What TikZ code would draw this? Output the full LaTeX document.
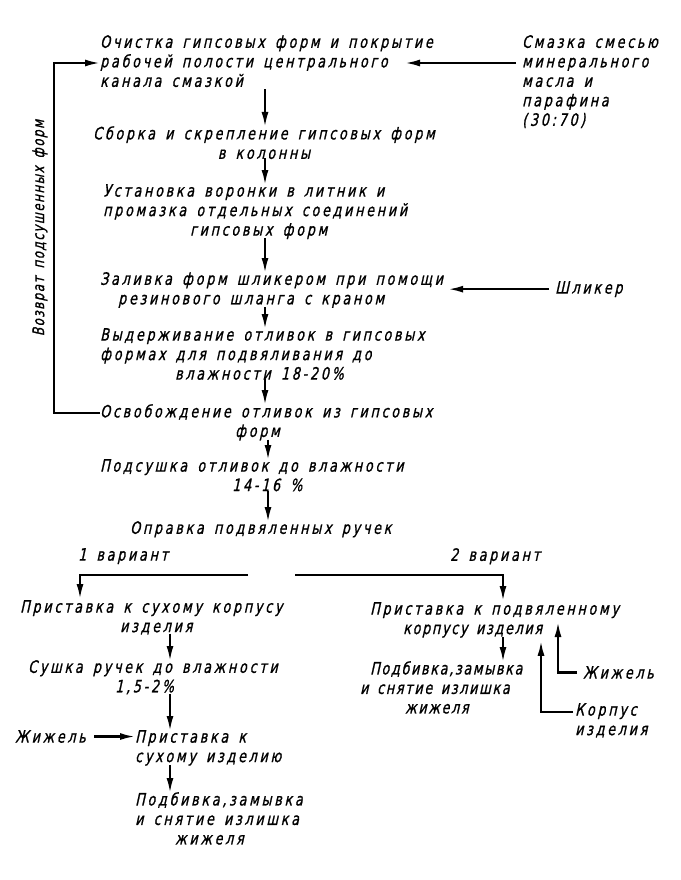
\documentclass[tikz,border=0pt]{standalone}
\usepackage{fontspec}
\setmainfont{DejaVu Sans}[FakeSlant=0.22, FakeStretch=0.75, LetterSpace=16, FakeBold=1, WordSpace=1.5]
\newfontfamily\lblfont{DejaVu Sans}[FakeSlant=0.22, FakeStretch=0.75, LetterSpace=9, FakeBold=1, WordSpace=1.5]
\newfontfamily\tightfont{DejaVu Sans}[FakeSlant=0.22, FakeStretch=0.75, LetterSpace=10, FakeBold=1, WordSpace=1.5]
\usetikzlibrary{arrows.meta}
\begin{document}
\begin{tikzpicture}[x=1pt,y=-1pt,
  txt/.style={inner sep=0pt, align=left, font=\fontsize{17}{19.5}\selectfont, anchor=north west},
  arr/.style={line width=2.2pt, -{Latex[length=15pt,width=7pt]}},
  ln/.style={line width=2.2pt}]
\useasboundingbox[fill=white] (0,0) rectangle (680,880);

% axes
\coordinate (ax) at (265,0);
\coordinate (axb) at (268,0);
\coordinate (axl) at (170,0);
\coordinate (axr) at (503,0);
\coordinate (bl) at (80,0);
\coordinate (lp) at (54,0);
\coordinate (c545) at (541,0);
\coordinate (c565) at (558,0);

% nodes
\node[txt] (n1) at (100,35) {Очистка гипсовых форм и покрытие\\рабочей полости центрального\\канала смазкой};
\node[txt] (sm) at (522,35) {Смазка смесью\\минерального\\масла и\\парафина\\(30:70)};
\node[txt, align=center, anchor=north] (n2) at (264,126) {Сборка и скрепление гипсовых форм\\в колонны};
\node[txt] (n3) at (103,184) {Установка воронки в литник и\\промазка отдельных соединений\\\hspace*{87pt}гипсовых форм};
\node[txt] (n4) at (100,272) {Заливка форм шликером при помощи\\\hspace*{18pt}резинового шланга с краном};
\node[txt] (shl) at (555,281) {Шликер};
\node[txt] (n5) at (100,328) {Выдерживание отливок в гипсовых\\формах для подвяливания до\\\hspace*{75pt}влажности 18-20\%};
\node[txt] (n6) at (100,404) {Освобождение отливок из гипсовых\\\hspace*{135pt}форм};
\node[txt] (n7) at (100,459) {Подсушка отливок до влажности\\\hspace*{132pt}14-16 \%};
\node[txt] (n8) at (130,521) {Оправка подвяленных ручек};
\node[txt] (v1) at (78,548) {1 вариант};
\node[txt] (v2) at (450,548) {2 вариант};
\node[txt] (n9) at (20,600) {Приставка к сухому корпусу\\\hspace*{100pt}изделия};
\node[txt] (n10) at (28,660) {Сушка ручек до влажности\\\hspace*{87pt}1,5-2\%};
\node[txt] (zh1) at (15,730) {Жижель};
\node[txt] (n11) at (135,730) {Приставка к\\сухому изделию};
\node[txt] (n12) at (135,792) {Подбивка,замывка\\и снятие излишка\\\hspace*{40pt}жижеля};
\node[txt] (n13) at (370,602) {Приставка к подвяленному\\\hspace*{33pt}{\tightfont корпусу изделия}};
\node[txt, font=\tightfont\fontsize{17}{19.5}\selectfont] (n14) at (360,661) {\hspace*{10pt}Подбивка,замывка\\и снятие излишка\\\hspace*{45pt}жижеля};
\node[txt] (zh2) at (583,666) {Жижель};
\node[txt] (korp) at (575,703) {Корпус\\изделия};
\node[txt, font=\lblfont\fontsize{16}{19}\selectfont, anchor=center, rotate=90] (vz) at (40,228) {Возврат подсушенных форм};

\coordinate (t1) at (405,63);
\coordinate (b1) at (248,575);
\coordinate (b2) at (295,575);

% connectors
\draw[arr] ([xshift=-6pt,yshift=-28pt]sm.north west) -- (t1);
\draw[arr] ([yshift=-2pt]n1.south -| ax) -- ([yshift=-1pt]n2.north -| ax);
\draw[arr] ([yshift=1pt]n2.south -| ax) -- ([yshift=-1pt]n3.north -| ax);
\draw[arr] ([yshift=1pt]n3.south -| ax) -- ([yshift=-1pt]n4.north -| ax);
\draw[arr] ([xshift=-6pt]shl.west) -- ([xshift=5pt]shl.west -| n4.east);
\draw[arr] ([yshift=1pt]n4.south -| ax) -- ([yshift=-1pt]n5.north -| ax);
\draw[arr] ([yshift=1pt]n5.south -| ax) -- ([yshift=-1pt]n6.north -| ax);
\draw[arr] ([yshift=1pt]n6.south -| axb) -- ([yshift=-1pt]n7.north -| axb);
\draw[arr] ([yshift=1pt]n7.south -| axb) -- ([yshift=-1pt]n8.north -| axb);
\draw[arr] ([yshift=-9pt]n6.north west) -| ([yshift=-28pt]n1.north west -| lp) -- ([yshift=-28pt]n1.north west);
\draw[arr] (b1) -| ([yshift=1pt]n9.north -| bl);
\draw[arr] (b2) -| ([yshift=1pt]n13.north -| axr);
\draw[arr] ([yshift=1pt]n9.south -| axl) -- ([yshift=-1pt]n10.north -| axl);
\draw[arr] ([yshift=1pt]n10.south -| axl) -- ([yshift=-1pt]n11.north -| axl);
\draw[arr] ([yshift=1pt]n11.south -| axl) -- ([yshift=-1pt]n12.north -| axl);
\draw[arr] ([xshift=8pt]zh1.east) -- (n11.west |- zh1.east);
\draw[arr] ([yshift=1pt]n13.south -| axr) -- ([yshift=-1pt]n14.north -| axr);
\draw[arr] ([xshift=-2pt,yshift=-9pt]korp.north west) -| ([yshift=-3pt]n13.south -| c545);
\draw[arr] ([xshift=-6pt]zh2.west) -| ([yshift=-20pt]n13.north -| c565);
\end{tikzpicture}
\end{document}
